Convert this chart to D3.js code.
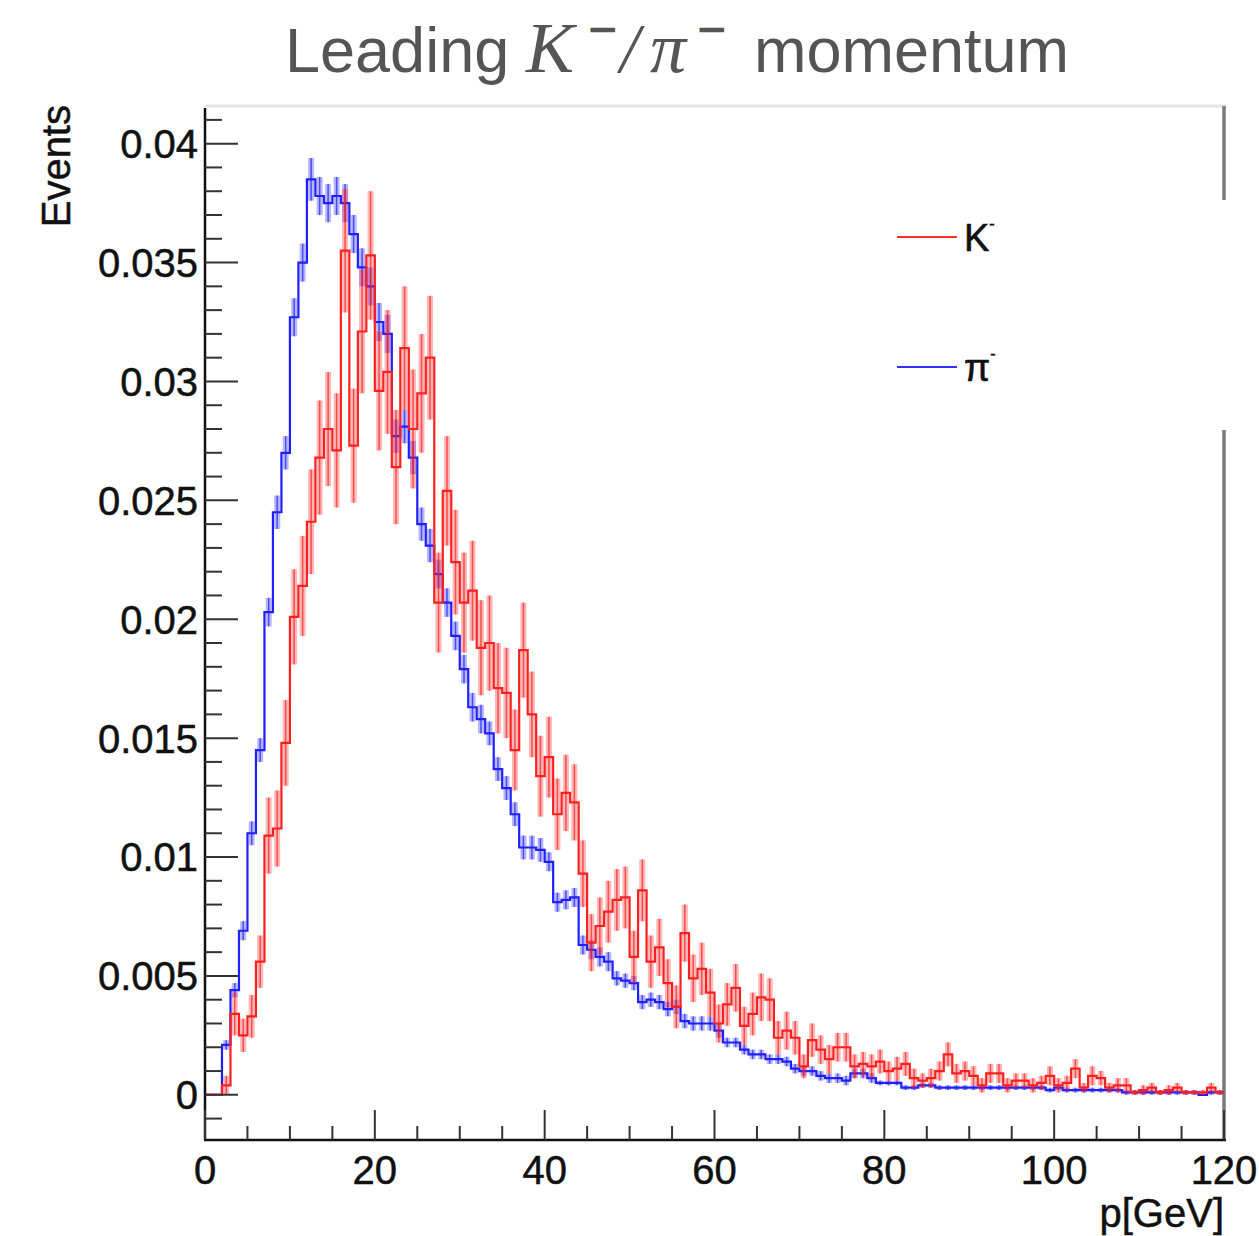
<!DOCTYPE html>
<html>
<head>
<meta charset="utf-8">
<script src="https://cdn.jsdelivr.net/npm/d3@7"></script>
<style>
  body { margin: 0; background: #fff; }
  svg { display: block; }
  text { font-family: 'Liberation Sans', Arial, Helvetica, sans-serif; }
</style>
</head>
<body>
<div id="chart"></div>
<script>
'use strict';

// 1 GeV bins from 0 to 120 (normalised event fraction per bin)
let binEdges = d3.range(0, 121);

// leading K- momentum
let kaonValues = [
  0, 0, 0.0004, 0.0034, 0.0025, 0.0033, 0.0056, 0.0109, 0.0112, 0.0148,
  0.0201, 0.0214, 0.0241, 0.0268, 0.0280, 0.0271, 0.0355, 0.0273, 0.0321, 0.0353,
  0.0296, 0.0304, 0.0264, 0.0314, 0.0280, 0.0295, 0.0310, 0.0207, 0.0254, 0.0224,
  0.0207, 0.0212, 0.0188, 0.0190, 0.0171, 0.0169, 0.0145, 0.0187, 0.0160, 0.0134,
  0.0142, 0.0118, 0.0127, 0.0123, 0.0093, 0.0064, 0.0071, 0.0077, 0.0082, 0.0083,
  0.0058, 0.0086, 0.0056, 0.0062, 0.0047, 0.0037, 0.0068, 0.0049, 0.0053, 0.0043,
  0.0030, 0.0038, 0.0045, 0.0029, 0.0034, 0.0041, 0.0040, 0.0024, 0.0027, 0.0024,
  0.0012, 0.0023, 0.0019, 0.0015, 0.0020, 0.0020, 0.0012, 0.0013, 0.0012, 0.0014,
  0.0010, 0.0011, 0.0013, 0.0007, 0.0006, 0.0007, 0.0010, 0.0017, 0.0009, 0.0010,
  0.0008, 0.0004, 0.0009, 0.0009, 0.0004, 0.0006, 0.0006, 0.0004, 0.0005, 0.0008,
  0.0004, 0.0005, 0.0011, 0.0003, 0.0008, 0.0007, 0.0003, 0.0004, 0.0004, 0.0001,
  0.0002, 0.0003, 0.0001, 0.0002, 0.0003, 0.0001, 0.0001, 0.0001, 0.0003, 0.0001
];
let kaonErrors = [
  0, 0, 0.0004, 0.0009, 0.0007, 0.0009, 0.0011, 0.0016, 0.0016, 0.0018,
  0.0020, 0.0021, 0.0022, 0.0024, 0.0024, 0.0024, 0.0026, 0.0024, 0.0026, 0.0027,
  0.0025, 0.0026, 0.0024, 0.0026, 0.0025, 0.0025, 0.0026, 0.0021, 0.0023, 0.0022,
  0.0021, 0.0021, 0.0020, 0.0020, 0.0019, 0.0019, 0.0017, 0.0020, 0.0018, 0.0017,
  0.0017, 0.0015, 0.0016, 0.0016, 0.0014, 0.0012, 0.0012, 0.0013, 0.0013, 0.0013,
  0.0011, 0.0013, 0.0011, 0.0012, 0.0010, 0.0009, 0.0012, 0.0010, 0.0011, 0.0010,
  0.0008, 0.0009, 0.0010, 0.0008, 0.0009, 0.0010, 0.0009, 0.0007, 0.0008, 0.0007,
  0.0005, 0.0007, 0.0006, 0.0006, 0.0006, 0.0006, 0.0005, 0.0005, 0.0005, 0.0005,
  0.0004, 0.0005, 0.0005, 0.0004, 0.0003, 0.0004, 0.0004, 0.0005, 0.0004, 0.0004,
  0.0004, 0.0003, 0.0004, 0.0004, 0.0003, 0.0003, 0.0003, 0.0003, 0.0003, 0.0004,
  0.0003, 0.0003, 0.0004, 0.0002, 0.0004, 0.0003, 0.0002, 0.0003, 0.0003, 0.0001,
  0.0002, 0.0002, 0.0001, 0.0002, 0.0002, 0.0001, 0.0001, 0.0001, 0.0002, 0.0001
];

// leading pi- momentum
let pionValues = [
  0, 0, 0.0021, 0.0044, 0.0069, 0.0110, 0.0145, 0.0203, 0.0245, 0.0270,
  0.0327, 0.0350, 0.0385, 0.0378, 0.0375, 0.0378, 0.0375, 0.0362, 0.0348, 0.0340,
  0.0325, 0.0320, 0.0277, 0.0281, 0.0268, 0.0240, 0.0231, 0.0219, 0.0207, 0.0193,
  0.0179, 0.0163, 0.0158, 0.0152, 0.0137, 0.0129, 0.0118, 0.0104, 0.0104, 0.0103,
  0.0098, 0.0081, 0.0082, 0.0083, 0.0063, 0.0061, 0.0058, 0.0056, 0.0049, 0.0048,
  0.0047, 0.0039, 0.0040, 0.0039, 0.0036, 0.0037, 0.0031, 0.0030, 0.0030, 0.0030,
  0.0027, 0.0022, 0.0022, 0.0019, 0.0017, 0.0017, 0.0015, 0.0015, 0.0014, 0.0011,
  0.0010, 0.0010, 0.0008, 0.0007, 0.0007, 0.0006, 0.0009, 0.0009, 0.0007, 0.0005,
  0.0005, 0.0005, 0.0003, 0.0003, 0.0004, 0.0004, 0.0003, 0.0003, 0.0003, 0.0003,
  0.0003, 0.0003, 0.0003, 0.0003, 0.0003, 0.0003, 0.0003, 0.0003, 0.0003, 0.0002,
  0.0003, 0.0002, 0.0002, 0.0002, 0.0002, 0.0002, 0.0002, 0.0002, 0.0001, 0.0001,
  0.0001, 0.0001, 0.0001, 0.0001, 0.0001, 0.0001, 0.0001, 0.0000, 0.0001, 0.0001
];
let pionErrors = [
  0, 0, 0.0002, 0.0003, 0.0004, 0.0005, 0.0005, 0.0006, 0.0007, 0.0007,
  0.0008, 0.0008, 0.0009, 0.0008, 0.0008, 0.0008, 0.0008, 0.0008, 0.0008, 0.0008,
  0.0008, 0.0008, 0.0007, 0.0007, 0.0007, 0.0007, 0.0007, 0.0006, 0.0006, 0.0006,
  0.0006, 0.0006, 0.0006, 0.0005, 0.0005, 0.0005, 0.0005, 0.0005, 0.0005, 0.0005,
  0.0004, 0.0004, 0.0004, 0.0004, 0.0004, 0.0004, 0.0004, 0.0004, 0.0003, 0.0003,
  0.0003, 0.0003, 0.0003, 0.0003, 0.0003, 0.0003, 0.0003, 0.0003, 0.0003, 0.0003,
  0.0003, 0.0002, 0.0002, 0.0002, 0.0002, 0.0002, 0.0002, 0.0002, 0.0002, 0.0002,
  0.0002, 0.0002, 0.0002, 0.0002, 0.0002, 0.0002, 0.0002, 0.0002, 0.0002, 0.0001,
  0.0001, 0.0001, 0.0001, 0.0001, 0.0001, 0.0001, 0.0001, 0.0001, 0.0001, 0.0001,
  0.0001, 0.0001, 0.0001, 0.0001, 0.0001, 0.0001, 0.0001, 0.0001, 0.0001, 0.0001,
  0.0001, 0.0001, 0.0001, 0.0001, 0.0001, 0.0001, 0.0001, 0.0001, 0.0001, 0.0001,
  0.0001, 0.0001, 0.0001, 0.0001, 0.0001, 0.0001, 0.0001, 0, 0.0001, 0.0001
];

let xTicks = [0, 20, 40, 60, 80, 100, 120];
let yTicks = [0, 0.005, 0.01, 0.015, 0.02, 0.025, 0.03, 0.035, 0.04];
let yTickLabels = ['0', '0.005', '0.01', '0.015', '0.02', '0.025', '0.03', '0.035', '0.04'];

let series = [
  { name: 'pion', values: pionValues, errors: pionErrors, color: '#1f1fff' },
  { name: 'kaon', values: kaonValues, errors: kaonErrors, color: '#ff1f1f' }
];

let width = 1259;
let height = 1236;
let frame = { left: 205, right: 1224, top: 108, bottom: 1140 };

let svg = d3.select('#chart')
  .append('svg')
  .attr('width', width)
  .attr('height', height);

let x = d3.scaleLinear()
  .domain([0, 120])
  .range([frame.left, frame.right]);

let y = d3.scaleLinear()
  .domain([-0.0019, 0.0415])
  .range([frame.bottom, frame.top]);

// frame (top light, right grey)
svg.append('line')
  .attr('x1', frame.left).attr('x2', frame.right + 2)
  .attr('y1', frame.top - 2).attr('y2', frame.top - 2)
  .attr('stroke', '#e4e4e4').attr('stroke-width', 3);
svg.append('line')
  .attr('x1', frame.right).attr('x2', frame.right)
  .attr('y1', frame.top - 2).attr('y2', frame.bottom)
  .attr('stroke', '#7a7a7a').attr('stroke-width', 3.5);

// histograms
let plot = svg.append('g').attr('class', 'plot');

series.forEach(function(s) {
  let g = plot.append('g').attr('class', s.name);
  let bins = s.values.map(function(v, i) { return { i: i, v: v, e: s.errors[i] }; })
    .filter(function(d) { return d.v > 0; });

  // error bars (soft band + centre line)
  g.selectAll('rect.err')
    .data(bins)
    .enter()
    .append('rect')
    .attr('class', 'err')
    .attr('x', function(d) { return x(d.i + 0.5) - 3; })
    .attr('width', 6)
    .attr('y', function(d) { return y(d.v + d.e); })
    .attr('height', function(d) { return y(d.v - d.e) - y(d.v + d.e); })
    .attr('fill', s.color)
    .attr('opacity', 0.32);

  g.selectAll('line.err')
    .data(bins)
    .enter()
    .append('line')
    .attr('class', 'err')
    .attr('x1', function(d) { return x(d.i + 0.5); })
    .attr('x2', function(d) { return x(d.i + 0.5); })
    .attr('y1', function(d) { return y(d.v + d.e); })
    .attr('y2', function(d) { return y(d.v - d.e); })
    .attr('stroke', s.color)
    .attr('stroke-width', 1.5)
    .attr('opacity', 0.7);

  // step outline, ROOT hist style
  let steps = s.values.map(function(v, i) { return [binEdges[i], v]; });
  steps.push([binEdges[binEdges.length - 1], s.values[s.values.length - 1]]);

  g.append('path')
    .datum(steps)
    .attr('fill', 'none')
    .attr('stroke', s.color)
    .attr('stroke-width', 2.2)
    .attr('d', d3.line()
      .x(function(d) { return x(d[0]); })
      .y(function(d) { return y(d[1]); })
      .curve(d3.curveStepAfter));
});

// legend box (white, covers part of the right frame edge)
let legend = svg.append('g').attr('class', 'legend');
legend.append('rect')
  .attr('x', 870).attr('y', 200)
  .attr('width', 362).attr('height', 230)
  .attr('fill', '#fff');

let legendItems = [
  { label: 'K', color: '#ff3030', y: 237 },
  { label: 'π', color: '#3030ff', y: 367 }
];
legendItems.forEach(function(d) {
  legend.append('line')
    .attr('x1', 897).attr('x2', 957)
    .attr('y1', d.y).attr('y2', d.y)
    .attr('stroke', d.color).attr('stroke-width', 2.2);
  let t = legend.append('text')
    .attr('x', 964)
    .attr('y', d.y + 14)
    .attr('font-size', 38)
    .attr('fill', '#111')
    .attr('stroke', '#111')
    .attr('stroke-width', 0.6)
    .text(d.label);
  t.append('tspan')
    .attr('dy', -22)
    .attr('font-size', 16)
    .text('-');
});

// y axis
let yAxis = svg.append('g').attr('class', 'y axis');
yAxis.append('line')
  .attr('x1', frame.left).attr('x2', frame.left)
  .attr('y1', frame.top).attr('y2', frame.bottom)
  .attr('stroke', '#111').attr('stroke-width', 2.5);

let yMinor = d3.range(-1, 42).map(function(k) { return k * 0.001; });
yAxis.selectAll('line.tick')
  .data(yMinor)
  .enter()
  .append('line')
  .attr('class', 'tick')
  .attr('x1', frame.left)
  .attr('x2', function(d, i) { return frame.left + ((i - 1) % 5 === 0 ? 33 : 17); })
  .attr('y1', function(d) { return y(d); })
  .attr('y2', function(d) { return y(d); })
  .attr('stroke', '#333')
  .attr('stroke-width', 2);

yAxis.selectAll('text')
  .data(yTicks)
  .enter()
  .append('text')
  .attr('x', 198)
  .attr('y', function(d) { return y(d); })
  .attr('dy', '0.36em')
  .attr('text-anchor', 'end')
  .attr('font-size', 40)
  .attr('fill', '#111')
  .attr('stroke', '#111')
  .attr('stroke-width', 0.5)
  .text(function(d, i) { return yTickLabels[i]; });

// x axis
let xAxis = svg.append('g').attr('class', 'x axis');
xAxis.append('line')
  .attr('x1', frame.left - 1).attr('x2', frame.right + 2)
  .attr('y1', frame.bottom).attr('y2', frame.bottom)
  .attr('stroke', '#111').attr('stroke-width', 2.5);

let xMinor = d3.range(0, 121, 5);
xAxis.selectAll('line.tick')
  .data(xMinor)
  .enter()
  .append('line')
  .attr('class', 'tick')
  .attr('x1', function(d) { return x(d); })
  .attr('x2', function(d) { return x(d); })
  .attr('y1', frame.bottom)
  .attr('y2', function(d) { return frame.bottom - (d % 20 === 0 ? 30 : 14); })
  .attr('stroke', '#333')
  .attr('stroke-width', 2);

xAxis.selectAll('text')
  .data(xTicks)
  .enter()
  .append('text')
  .attr('x', function(d) { return x(d); })
  .attr('y', 1184)
  .attr('text-anchor', 'middle')
  .attr('font-size', 40)
  .attr('fill', '#111')
  .attr('stroke', '#111')
  .attr('stroke-width', 0.5)
  .text(function(d) { return d; });

// axis titles
svg.append('text')
  .attr('x', frame.right)
  .attr('y', 1227)
  .attr('text-anchor', 'end')
  .attr('font-size', 40)
  .attr('fill', '#111')
  .attr('stroke', '#111')
  .attr('stroke-width', 0.5)
  .text('p[GeV]');

svg.append('text')
  .attr('transform', 'translate(70,105) rotate(-90)')
  .attr('text-anchor', 'end')
  .attr('font-size', 40)
  .attr('fill', '#111')
  .attr('stroke', '#111')
  .attr('stroke-width', 0.5)
  .text('Events');

// title with math parts
let title = svg.append('text')
  .attr('y', 72)
  .attr('fill', '#555')
  .attr('font-size', 63);
title.append('tspan').attr('x', 285).text('Leading');
title.append('tspan')
  .attr('x', 526)
  .attr('font-family', "'Liberation Serif', 'DejaVu Serif', serif")
  .attr('font-style', 'italic')
  .attr('font-size', 72)
  .text('K');
title.append('tspan')
  .attr('x', 589).attr('y', 46)
  .attr('font-family', "'Liberation Serif', serif")
  .attr('font-size', 48)
  .attr('stroke', '#555')
  .attr('stroke-width', 2.2)
  .text('\u2212');
title.append('tspan')
  .attr('x', 620).attr('y', 72)
  .attr('font-family', "'Liberation Serif', serif")
  .attr('font-style', 'italic')
  .attr('font-size', 70)
  .text('/');
title.append('tspan')
  .attr('x', 650)
  .attr('font-family', "'Liberation Serif', serif")
  .attr('font-style', 'italic')
  .attr('font-size', 72)
  .text('π');
title.append('tspan')
  .attr('x', 698).attr('y', 46)
  .attr('font-family', "'Liberation Serif', serif")
  .attr('font-size', 48)
  .attr('stroke', '#555')
  .attr('stroke-width', 2.2)
  .text('\u2212');
title.append('tspan')
  .attr('x', 754).attr('y', 72)
  .text('momentum');
</script>
</body>
</html>
